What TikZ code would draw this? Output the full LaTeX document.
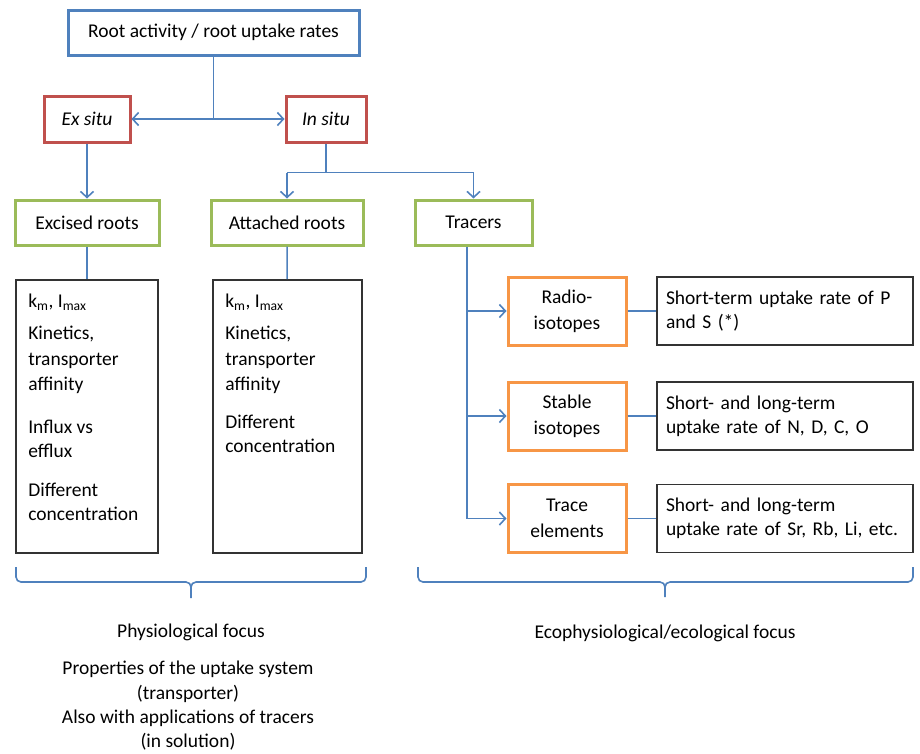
\documentclass[tikz,border=0pt]{standalone}
\usepackage{fontspec}
\setmainfont{Carlito}
\usetikzlibrary{arrows.meta,positioning}
\definecolor{ofblue}{HTML}{4F81BD}
\definecolor{ofred}{HTML}{C0504D}
\definecolor{ofgreen}{HTML}{9BBB59}
\definecolor{oforange}{HTML}{F79646}
\tikzset{
  cbox/.style={draw, line width=3pt, inner sep=0pt, align=center},
  topbox/.style={cbox, draw=ofblue},
  sitebox/.style={cbox, draw=ofred},
  rootbox/.style={cbox, draw=ofgreen, minimum height=45pt},
  isobox/.style={cbox, draw=oforange, minimum width=118pt, minimum height=68pt},
  listbox/.style={draw=black!80, line width=1.8pt, minimum height=273pt},
  infobox/.style={draw=black!80, line width=1.8pt, inner xsep=9pt, inner ysep=0pt,
    text width=238pt, align=left, minimum height=68pt},
  listtxt/.style={inner sep=0pt, align=left},
  conn/.style={draw=ofblue, line width=1.6pt},
}
\begin{document}
\begin{tikzpicture}[x=1pt,y=-1pt,>={Straight Barb[length=6pt,width=13pt]},font=\fontsize{19.5}{24}\selectfont]
\useasboundingbox (0,0) rectangle (920,753);
% top levels
\node[topbox,minimum width=291pt,minimum height=45pt] (root) at (213.5,32.5) {Root activity / root uptake rates};
\node[sitebox,minimum width=86pt,minimum height=46pt] (exsitu) at (87,119) {\textit{Ex situ}};
\node[sitebox,minimum width=80pt,minimum height=46pt] (insitu) at (326,119) {\textit{In situ}};
\node[rootbox,minimum width=144pt] (excised) at (87,222.5) {Excised roots};
\node[rootbox,minimum width=152pt] (attached) at (287,222.5) {Attached roots};
\node[rootbox,minimum width=117pt] (tracers) at (473.5,222.5) {Tracers};
% lists
\node[listbox,minimum width=142pt] (exbox) at (87,416.5) {};
\node[listbox,minimum width=149pt] (atbox) at (287.5,416.5) {};
\node[listtxt,anchor=north west] (exlist) at ([xshift=13pt,yshift=-15pt]exbox.north west)
  {k\textsubscript{m}, I\textsubscript{max}\\[8pt] Kinetics,\\[1.5pt] transporter\\[1.5pt] affinity\\[19pt] Influx vs\\ efflux\\[15pt] Different\\ concentration};
\node[listtxt,anchor=north west] (atlist) at ([xshift=13pt,yshift=-15pt]atbox.north west)
  {k\textsubscript{m}, I\textsubscript{max}\\[8pt] Kinetics,\\[1.5pt] transporter\\[1.5pt] affinity\\[14pt] Different\\ concentration};
% tracers
\node[isobox] (radio) at (567,311) {Radio-\\[2pt]isotopes};
\node[isobox] (stable) at (567,416) {Stable\\[2pt]isotopes};
\node[isobox] (trace) at (567,518.5) {Trace\\[2pt]elements};
\node[infobox] (inforadio) at (785,311) {Short-term uptake rate of P\\ and S (*)};
\node[infobox] (infostable) at (785,416) {Short- and long-term\\ uptake rate of N, D, C, O};
\node[infobox] (infotrace) at (785,518.5) {Short- and long-term\\ uptake rate of Sr, Rb, Li, etc.};
% connectors
\draw[conn,<->] (exsitu) -- (insitu);
\draw[conn] (root.south) -- (root.south |- exsitu.east);
\draw[conn,->] (exsitu) -- (excised);
\draw[conn] (insitu.south) -- ++(0,29) coordinate (split);
\draw[conn] (split -| attached) -- (split -| tracers);
\draw[conn,->] (split -| attached) -- (attached);
\draw[conn,->] (split -| tracers) -- (tracers);
\draw[conn] (excised) -- (exbox);
\draw[conn] (attached) -- (atbox);
\coordinate (trunk) at ([xshift=-6.5pt]tracers.south);
\draw[conn] (trunk) -- (trunk |- trace.west);
\foreach \n in {radio,stable,trace}{
  \draw[conn,->] (trunk |- \n.west) -- (\n.west);
  \draw[conn] (\n.east) -- (info\n.west);
}
% braces
\draw[conn,rounded corners=5pt]
  (16,567) -- (16,582) -- (191,582) -- (191,598)
  (366,567) -- (366,582) -- (191,582) -- (191,598);
\draw[conn,rounded corners=5pt]
  (418,567) -- (418,582) -- (665,582) -- (665,597)
  (913,567) -- (913,582) -- (665,582) -- (665,597);
\node (physio) at (191,632) {Physiological focus};
\node[align=center,inner sep=1pt] (physdet) at (188,706) {Properties of the uptake system\\[1pt](transporter)\\Also with applications of tracers\\(in solution)};
\node (ecophys) at (665,633) {Ecophysiological/ecological focus};
\end{tikzpicture}
\end{document}
